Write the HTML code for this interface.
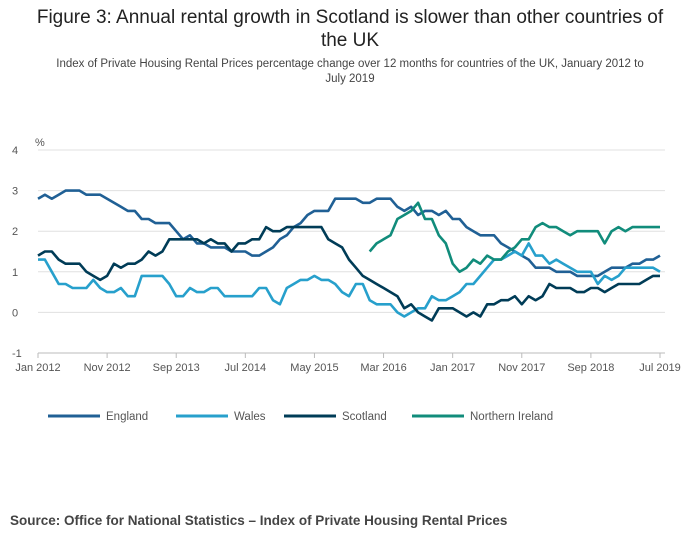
<!DOCTYPE html>
<html><head><meta charset="utf-8"><style>
body{margin:0;width:700px;height:549px;background:#fff;font-family:"Liberation Sans",sans-serif;overflow:hidden}
.t{position:absolute;left:0;width:700px;text-align:center;color:#222}
</style></head><body>
<div class="t" style="top:6px;font-size:19px;line-height:23px">Figure 3: Annual rental growth in Scotland is slower than other countries of<br>the UK</div>
<div class="t" style="top:57px;font-size:11.5px;line-height:15px;color:#444">Index of Private Housing Rental Prices percentage change over 12 months for countries of the UK, January 2012 to<br>July 2019</div>
<svg id="c" width="700" height="549" style="position:absolute;left:0;top:0"></svg>
<div style="position:absolute;left:10px;top:513px;font-size:13.5px;font-weight:bold;color:#444">Source: Office for National Statistics – Index of Private Housing Rental Prices</div>
<script>
const xLabels=["Jan 2012","Nov 2012","Sep 2013","Jul 2014","May 2015","Mar 2016","Jan 2017","Nov 2017","Sep 2018","Jul 2019"];
const yTicks=[4,3,2,1,0,-1];
const seriesNames=["England","Wales","Scotland","Northern Ireland"];
const england=[2.8,2.9,2.8,2.9,3.0,3.0,3.0,2.9,2.9,2.9,2.8,2.7,2.6,2.5,2.5,2.3,2.3,2.2,2.2,2.2,2.0,1.8,1.9,1.7,1.7,1.6,1.6,1.6,1.5,1.5,1.5,1.4,1.4,1.5,1.6,1.8,1.9,2.1,2.2,2.4,2.5,2.5,2.5,2.8,2.8,2.8,2.8,2.7,2.7,2.8,2.8,2.8,2.6,2.5,2.6,2.4,2.5,2.5,2.4,2.5,2.3,2.3,2.1,2.0,1.9,1.9,1.9,1.7,1.6,1.5,1.4,1.3,1.1,1.1,1.1,1.0,1.0,1.0,0.9,0.9,0.9,0.9,1.0,1.1,1.1,1.1,1.2,1.2,1.3,1.3,1.4];
const wales=[1.3,1.3,1.0,0.7,0.7,0.6,0.6,0.6,0.8,0.6,0.5,0.5,0.6,0.4,0.4,0.9,0.9,0.9,0.9,0.7,0.4,0.4,0.6,0.5,0.5,0.6,0.6,0.4,0.4,0.4,0.4,0.4,0.6,0.6,0.3,0.2,0.6,0.7,0.8,0.8,0.9,0.8,0.8,0.7,0.5,0.4,0.7,0.7,0.3,0.2,0.2,0.2,0.0,-0.1,0.0,0.1,0.1,0.4,0.3,0.3,0.4,0.5,0.7,0.7,0.9,1.1,1.3,1.3,1.4,1.5,1.4,1.7,1.4,1.4,1.2,1.3,1.2,1.1,1.0,1.0,1.0,0.7,0.9,0.8,0.9,1.1,1.1,1.1,1.1,1.1,1.0];
const scotland=[1.4,1.5,1.5,1.3,1.2,1.2,1.2,1.0,0.9,0.8,0.9,1.2,1.1,1.2,1.2,1.3,1.5,1.4,1.5,1.8,1.8,1.8,1.8,1.8,1.7,1.8,1.7,1.7,1.5,1.7,1.7,1.8,1.8,2.1,2.0,2.0,2.1,2.1,2.1,2.1,2.1,2.1,1.8,1.7,1.6,1.3,1.1,0.9,0.8,0.7,0.6,0.5,0.4,0.1,0.2,0.0,-0.1,-0.2,0.1,0.1,0.1,0.0,-0.1,0.0,-0.1,0.2,0.2,0.3,0.3,0.4,0.2,0.4,0.3,0.4,0.7,0.6,0.6,0.6,0.5,0.5,0.6,0.6,0.5,0.6,0.7,0.7,0.7,0.7,0.8,0.9,0.9];
const nireland=[null,null,null,null,null,null,null,null,null,null,null,null,null,null,null,null,null,null,null,null,null,null,null,null,null,null,null,null,null,null,null,null,null,null,null,null,null,null,null,null,null,null,null,null,null,null,null,null,1.5,1.7,1.8,1.9,2.3,2.4,2.5,2.7,2.3,2.3,1.9,1.7,1.2,1.0,1.1,1.3,1.2,1.4,1.3,1.3,1.5,1.6,1.8,1.8,2.1,2.2,2.1,2.1,2.0,1.9,2.0,2.0,2.0,2.0,1.7,2.0,2.1,2.0,2.1,2.1,2.1,2.1,2.1];
const colors=["#206095","#27a0cc","#003c57","#118c7b"];
const svg=document.getElementById('c');const NS='http://www.w3.org/2000/svg';
const X0=38,X1=660,Y4=150,YM1=353;
const xs=i=>X0+(X1-X0)*i/90;
const ys=v=>Y4+(4-v)*(YM1-Y4)/5;
function mk(t,a){const e=document.createElementNS(NS,t);for(const k in a)e.setAttribute(k,a[k]);svg.appendChild(e);return e;}
yTicks.forEach(v=>{
 const g=mk('line',{x1:X0,x2:665,y1:ys(v),y2:ys(v),stroke:v===-1?'#bbb':'#e0e0e0','stroke-width':1});
 
 
 const t=mk('text',{x:12,y:ys(v)+4,'font-size':11,fill:'#555'});t.textContent=v;
 
 
});
const pu=mk('text',{x:35,y:146,'font-size':11,fill:'#555'});pu.textContent='%';


xLabels.forEach((l,i)=>{
 const x=xs(i*10);
 const tk=mk('line',{x1:x,x2:x,y1:353,y2:358,stroke:'#bbb'});
 
 
 const t=mk('text',{x:x,y:371,'font-size':11,fill:'#555','text-anchor':'middle'});t.textContent=l;
 
 
});
[england,wales,scotland,nireland].forEach((s,k)=>{
 let d='',pen=false;
 s.forEach((v,i)=>{if(v===null){pen=false;return;}d+=(pen?'L':'M')+xs(i).toFixed(1)+','+ys(v).toFixed(1);pen=true;});
 const p=mk('path',{d:d,fill:'none',stroke:colors[k],'stroke-width':2.6,'stroke-linejoin':'round'});
 
 
});
const lx=[48,176,284,412];
seriesNames.forEach((n,k)=>{
 const l=mk('line',{x1:lx[k],x2:lx[k]+52,y1:416,y2:416,stroke:colors[k],'stroke-width':3});
 
 
 const t=mk('text',{x:lx[k]+58,y:420,'font-size':11.5,fill:'#555'});t.textContent=n;
 
 
});
</script>
</body></html>
